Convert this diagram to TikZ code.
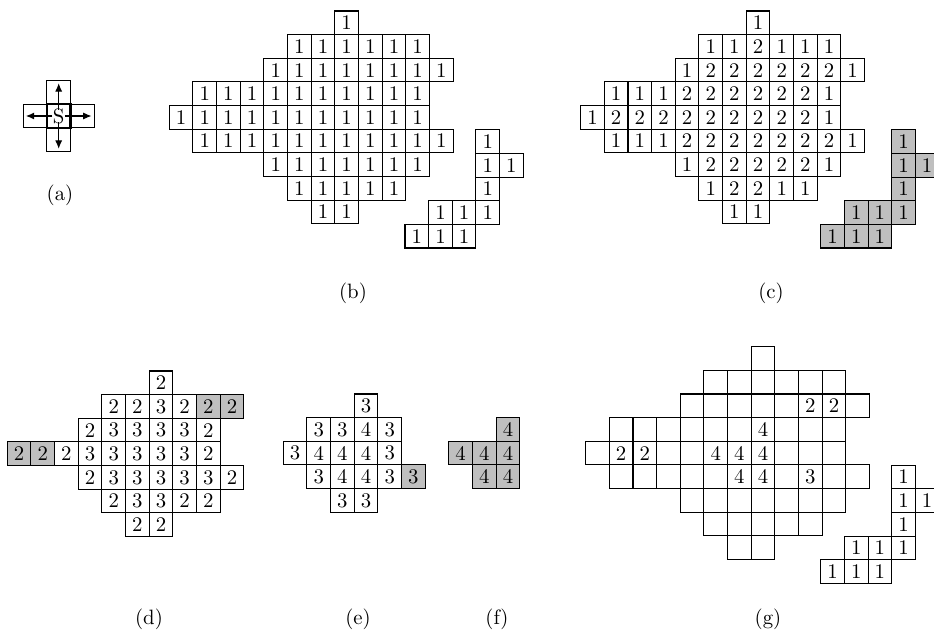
\documentclass[tikz,border=0pt]{standalone}
\usepackage{etoolbox}
\usetikzlibrary{arrows.meta}
\tikzset{
  cell/.style={draw, line width=0.5pt, minimum size=11.38pt, inner sep=0pt, outer sep=0pt, anchor=center},
  c1/.style={}, c2/.style={}, c3/.style={}, c4/.style={}, c-/.style={},
  cg/.style={fill=gray!50},
  scell/.style={cell, line width=1pt},
  arr/.style={-{Latex[length=4pt,width=3.4pt]}, line width=0.5pt, shorten <=3pt, shorten >=1.3pt},
  lab/.style={inner sep=0pt}
}
\newcommand\ctext[1]{\ifdefstring{#1}{-}{}{#1}}
\newcommand\mygrid[4]{%
  \foreach \r/\s/\vals in {#4}{%
    \foreach \v/\f [count=\c from \s] in \vals {%
      \node[cell,c\f] (#1-\c-\r) at ({#2+(\c+0.5)*23.65},{#3+(\r+0.5)*23.65}) {\ctext\v};
    }%
  }%
}
\begin{document}
\begin{tikzpicture}[x=0.4812pt, y=-0.4812pt]
\useasboundingbox (0,0) rectangle (934,632);
\clip (0,0) rectangle (934,632);

% (a)
\node[cell] (a-u) at (58.7,92.35) {};
\node[cell] (a-d) at (58.7,139.65) {};
\node[cell] (a-l) at (35.05,116) {};
\node[cell] (a-r) at (82.35,116) {};
\node[scell] (a-s) at (58.7,116) {S};
\draw[arr] (a-s.center) -- (a-u.north);
\draw[arr] (a-s.center) -- (a-d.south);
\draw[arr] (a-s.center) -- (a-l.west);
\draw[arr] (a-s.center) -- (a-r.east);
\node[lab] (la) at (60,195) {(a)};

% (b)
\mygrid{b}{169.3}{11}{0/7/{1}, 1/5/{1,1,1,1,1,1}, 2/4/{1,1,1,1,1,1,1,1},
  3/1/{1,1,1,1,1,1,1,1,1,1}, 4/0/{1,1,1,1,1,1,1,1,1,1,1},
  5/1/{1,1,1,1,1,1,1,1,1,1,1}, 6/4/{1,1,1,1,1,1,1}, 7/5/{1,1,1,1,1}, 8/6/{1,1}}
\mygrid{bs}{168.5}{11.5}{5/13/{1}, 6/13/{1,1}, 7/13/{1}, 8/11/{1,1,1}, 9/10/{1,1,1}}
\node[lab] (lb) at (353,293) {(b)};

% (c)
\mygrid{c}{580.7}{11}{0/7/{1}, 1/5/{1,1,2,1,1,1}, 2/4/{1,2,2,2,2,2,2,1},
  3/1/{1,1,1,2,2,2,2,2,2,1}, 4/0/{1,2,2,2,2,2,2,2,2,2,1},
  5/1/{1,1,1,2,2,2,2,2,2,2,1}, 6/4/{1,2,2,2,2,2,1}, 7/5/{1,2,2,1,1}, 8/6/{1,1}}
\mygrid{cs}{584.25}{11.5}{5/13/{1/g}, 6/13/{1/g,1/g}, 7/13/{1/g}, 8/11/{1/g,1/g,1/g}, 9/10/{1/g,1/g,1/g}}
\node[lab] (lc) at (771,293) {(c)};

% (d)
\mygrid{d}{7.3}{371}{0/6/{2}, 1/4/{2,2,3,2,2/g,2/g}, 2/3/{2,3,3,3,3,2},
  3/0/{2/g,2/g,2,3,3,3,3,3,2}, 4/3/{2,3,3,3,3,3,2}, 5/4/{2,3,3,2,2}, 6/5/{2,2}}
\node[lab] (ld) at (149,619) {(d)};

% (e)
\mygrid{e}{283.3}{394}{0/3/{3}, 1/1/{3,3,4,3}, 2/0/{3,4,4,4,3}, 3/1/{3,4,4,3,3/g}, 4/2/{3,3}}
\node[lab] (le) at (358,619) {(e)};

% (f)
\mygrid{f}{425.2}{394}{1/3/{4/g}, 2/1/{4/g,4/g,4/g}, 3/2/{4/g,4/g}}
\node[lab] (lf) at (497,619) {(f)};

% (g)
\mygrid{g}{585.7}{346.7}{0/7/{-}, 1/5/{-,-,-,-,-,-}, 2/4/{-,-,-,-,-,2,2,-},
  3/1/{-,-,-,-,-,-,4,-,-,-}, 4/0/{-,2,2,-,-,4,4,4,-,-,-},
  5/1/{-,-,-,-,-,4,4,-,3,-,-}, 6/4/{-,-,-,-,-,-,-}, 7/5/{-,-,-,-,-}, 8/6/{-,-}}
\mygrid{gs}{584.25}{347}{5/13/{1}, 6/13/{1,1}, 7/13/{1}, 8/11/{1,1,1}, 9/10/{1,1,1}}
\node[lab] (lg) at (768,619) {(g)};
\end{tikzpicture}
\end{document}
